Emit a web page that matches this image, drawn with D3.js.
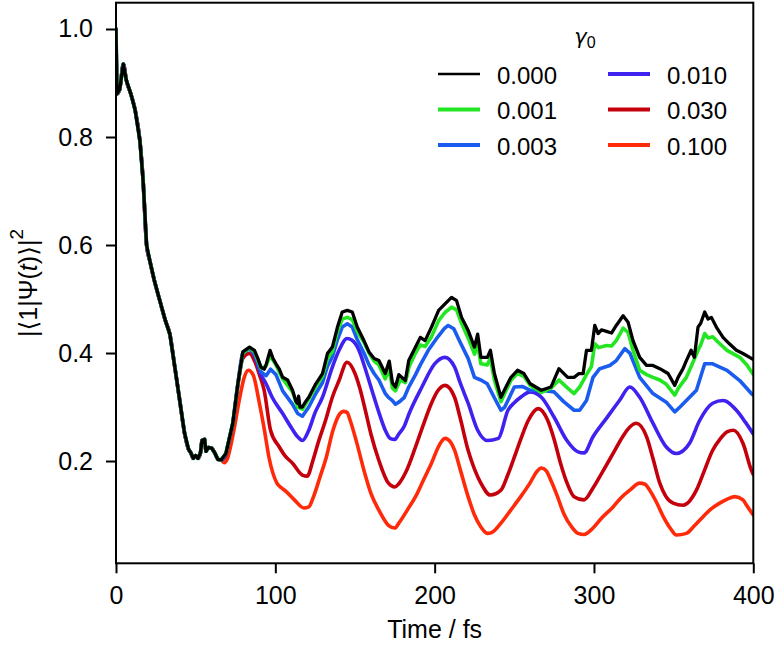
<!DOCTYPE html>
<html><head><meta charset="utf-8">
<script src="https://cdn.jsdelivr.net/npm/d3@7"></script>
<style>
html,body{margin:0;padding:0;background:#fff;}
svg{display:block;font-family:"Liberation Sans",Arial,sans-serif;}
</style></head>
<body><svg id="chart" width="778" height="646"></svg>
<script>
// ---- data ----
const gammaLabels = ["0.000","0.001","0.003","0.010","0.030","0.100"];
const seriesColors = ["#000000","#22e622","#1a5cf0","#3f22f0","#c4000c","#ff2a0a"];
const xTicks = [0,100,200,300,400];
const yTicks = [0.2,0.4,0.6,0.8,1.0];

// shared initial decay (all damping values coincide here)
const early = [[0,1.0],[0.6,0.88],[2.3,0.888],[4.6,0.935],[6.5,0.905],[9.5,0.878],[12,0.85],[15,0.793],[17,0.72],[19.2,0.6],[21.2,0.571],[24,0.535],[27.5,0.497],[31,0.46],[33.8,0.435],[36.9,0.374],[40,0.312],[43,0.252],[45.5,0.222],[47,0.215],[48.5,0.205],[50,0.21],[51.5,0.205],[53,0.215],[54,0.238],[55.6,0.24],[56.5,0.218],[58,0.225],[60,0.224],[62,0.215],[64,0.203],[66,0.202]];

const g000 = [[69,0.214],[71,0.24],[73.3,0.27],[76.5,0.343],[79.6,0.402],[83.8,0.411],[86.9,0.405],[89,0.39],[91,0.374],[93,0.37],[94.2,0.378],[96.7,0.405],[98.5,0.39],[100.4,0.38],[102.5,0.37],[104.6,0.355],[107.7,0.35],[110.8,0.331],[113,0.31],[114,0.307],[114.6,0.32],[115.5,0.3],[117,0.3],[119,0.31],[121,0.318],[125.4,0.343],[129.6,0.362],[132.7,0.399],[135.8,0.411],[139,0.448],[142,0.476],[145.2,0.479],[148.3,0.476],[151.4,0.448],[155.6,0.423],[158.8,0.402],[162,0.39],[165,0.386],[169,0.362],[171.5,0.385],[173.5,0.345],[175.4,0.337],[177.5,0.36],[181.6,0.349],[183.75,0.386],[188,0.411],[191,0.429],[194,0.423],[198,0.448],[202.5,0.479],[206.5,0.491],[210.6,0.503],[213.75,0.497],[216.9,0.466],[221,0.442],[225,0.411],[227,0.435],[229,0.392],[233.1,0.392],[235,0.405],[237.5,0.362],[241.6,0.318],[244.75,0.337],[247.9,0.355],[252,0.368],[256,0.362],[260,0.343],[266.9,0.331],[273,0.337],[278,0.371],[283.5,0.355],[287.5,0.355],[290.6,0.362],[293.2,0.362],[295.3,0.405],[298.4,0.405],[300.5,0.451],[302.6,0.436],[304.7,0.443],[307.8,0.44],[311,0.437],[314,0.451],[318.3,0.469],[321.4,0.457],[324.5,0.423],[328.7,0.392],[333,0.377],[337,0.377],[341.3,0.371],[346.5,0.362],[350.7,0.34],[352.8,0.355],[355.9,0.371],[358,0.386],[361,0.405],[363,0.392],[365.3,0.448],[367,0.455],[369.5,0.476],[371.6,0.463],[373.7,0.466],[376.8,0.448],[381,0.429],[385,0.417],[389.4,0.405],[393.5,0.399],[398.8,0.39],[400,0.388]];

const g001 = [[69,0.214],[71,0.24],[73.3,0.27],[76.5,0.343],[79.6,0.4],[83.8,0.41],[87,0.402],[91,0.372],[94,0.375],[96.7,0.395],[100.4,0.378],[104.6,0.352],[110.8,0.328],[114,0.3],[117,0.296],[121,0.315],[125.4,0.338],[129.6,0.357],[132.7,0.39],[135.8,0.403],[139,0.44],[142,0.463],[145.2,0.466],[148.3,0.462],[151.4,0.44],[155.6,0.42],[158.8,0.4],[162,0.385],[165,0.378],[169,0.352],[171.5,0.37],[173.5,0.335],[175.4,0.33],[178.5,0.35],[181.6,0.345],[184,0.375],[188,0.4],[191,0.415],[194,0.412],[198,0.43],[202.5,0.46],[206.5,0.475],[210.6,0.485],[213.75,0.48],[216.9,0.455],[221,0.428],[225,0.398],[227,0.415],[229,0.38],[233,0.378],[235,0.39],[237.5,0.35],[241.6,0.31],[244.75,0.33],[248,0.35],[252,0.362],[256,0.357],[260,0.34],[267,0.327],[273,0.335],[278,0.35],[283.5,0.335],[287.5,0.325],[291,0.337],[295.3,0.36],[298.4,0.375],[300.5,0.417],[303,0.41],[307.8,0.414],[311,0.413],[314,0.423],[318.3,0.446],[321.4,0.438],[324.5,0.405],[328.7,0.368],[333,0.36],[337,0.355],[341.3,0.35],[345.4,0.342],[350.7,0.322],[353,0.335],[358,0.355],[361,0.375],[365.3,0.405],[367,0.415],[369.5,0.436],[371.6,0.428],[374.5,0.43],[378,0.42],[383.5,0.405],[391.5,0.392],[396,0.378],[400,0.36]];

const g003 = [[69,0.214],[71,0.24],[73.3,0.27],[76.5,0.343],[79.6,0.4],[83.8,0.408],[87,0.398],[91,0.365],[94.2,0.358],[97,0.37],[100.4,0.36],[104.6,0.33],[110.8,0.305],[114,0.288],[117,0.283],[121,0.3],[125.4,0.325],[129.6,0.345],[132.7,0.375],[135.8,0.393],[139,0.425],[142,0.448],[145.2,0.454],[148.3,0.448],[151.4,0.425],[155.6,0.4],[158.8,0.378],[162,0.362],[165,0.35],[169,0.325],[171,0.318],[173.5,0.312],[175.4,0.305],[178,0.31],[181,0.318],[183.75,0.337],[188,0.36],[191,0.378],[196,0.405],[202,0.43],[206,0.445],[208.5,0.451],[212,0.445],[216,0.42],[221,0.39],[225,0.355],[229,0.35],[233,0.343],[237,0.32],[241.6,0.294],[244,0.3],[250,0.337],[255,0.338],[260,0.331],[267,0.331],[275,0.328],[281,0.31],[287.5,0.294],[291,0.294],[295.3,0.312],[299.4,0.355],[303.6,0.371],[309.9,0.377],[314,0.386],[319.3,0.408],[322.5,0.4],[328.7,0.355],[337,0.325],[345.4,0.309],[350.7,0.291],[354,0.3],[358,0.312],[364.3,0.331],[369.5,0.38],[374.5,0.38],[383.5,0.368],[391.5,0.349],[398.8,0.325],[400,0.322]];

const g010 = [[69,0.214],[71,0.24],[73.3,0.27],[76.5,0.343],[79.6,0.4],[83.8,0.408],[87,0.395],[91,0.36],[94.2,0.343],[98,0.318],[104.6,0.288],[110,0.262],[114,0.245],[117,0.238],[121,0.257],[125,0.29],[129.6,0.318],[135.8,0.374],[140,0.405],[145,0.427],[148,0.424],[152.5,0.405],[156,0.375],[160,0.337],[165,0.29],[169,0.257],[172,0.242],[175,0.24],[177.5,0.25],[181,0.265],[184,0.288],[192,0.337],[200,0.38],[206.5,0.392],[212.5,0.374],[216,0.345],[221,0.307],[227,0.257],[233,0.238],[240,0.242],[246,0.294],[250,0.308],[254,0.318],[260,0.328],[267,0.318],[275,0.281],[283,0.238],[290,0.217],[293.75,0.215],[299.4,0.245],[307.8,0.279],[316,0.312],[322.5,0.337],[328.7,0.318],[337,0.27],[345.4,0.226],[351.7,0.214],[360,0.233],[366.3,0.275],[374.5,0.307],[381,0.312],[389.4,0.294],[395,0.272],[400,0.25]];

const g030 = [[69,0.212],[71,0.238],[73.3,0.268],[76.5,0.34],[79.6,0.39],[83.8,0.399],[87,0.385],[90,0.36],[93,0.331],[97,0.257],[102.5,0.226],[106,0.21],[110.8,0.196],[117,0.174],[120,0.172],[123.5,0.2],[127,0.235],[131.5,0.275],[136,0.32],[140,0.349],[145,0.383],[150,0.362],[153,0.335],[156,0.3],[160,0.25],[165,0.201],[171,0.159],[175,0.152],[177.5,0.158],[182,0.18],[188,0.226],[193,0.268],[198,0.307],[202,0.33],[206.5,0.34],[212.5,0.318],[216,0.28],[221,0.22],[225,0.185],[229,0.159],[235,0.137],[241.6,0.146],[246,0.175],[250,0.207],[254,0.24],[258.75,0.275],[265,0.297],[271,0.275],[275,0.24],[279,0.196],[283,0.16],[287.5,0.134],[293.75,0.128],[299.4,0.15],[305,0.178],[312,0.214],[318,0.245],[322.5,0.263],[326.6,0.27],[333,0.245],[337,0.205],[341.3,0.159],[345,0.135],[349.7,0.122],[355.9,0.118],[364.3,0.146],[369,0.18],[374.5,0.22],[379,0.24],[383.5,0.254],[387.6,0.257],[393.5,0.233],[398.8,0.183],[400,0.175]];

const g100 = [[68,0.197],[70,0.205],[72,0.228],[74.5,0.265],[77.5,0.315],[80.5,0.355],[83,0.368],[86,0.36],[90,0.307],[93,0.26],[96,0.207],[101,0.159],[104,0.15],[107,0.143],[112,0.128],[118,0.113],[121,0.115],[124,0.134],[128,0.17],[132,0.207],[136,0.255],[140.6,0.288],[142.7,0.292],[145,0.29],[147,0.275],[151,0.235],[155.6,0.183],[160,0.14],[165,0.109],[171,0.081],[175,0.076],[177.5,0.085],[183,0.11],[188,0.134],[193,0.165],[198,0.196],[203,0.23],[206.5,0.242],[210,0.235],[212.5,0.22],[216,0.185],[221,0.134],[225,0.1],[229,0.078],[233,0.066],[236,0.068],[241.6,0.085],[248,0.11],[254,0.134],[260,0.16],[264,0.18],[267,0.187],[270,0.182],[273,0.164],[277,0.135],[281,0.103],[286,0.078],[290,0.066],[293.75,0.064],[299.4,0.076],[305,0.095],[312,0.115],[317,0.132],[322.5,0.146],[328.7,0.159],[332,0.157],[335,0.146],[339,0.125],[343.5,0.097],[348,0.075],[351.7,0.063],[358,0.066],[363,0.08],[368.5,0.097],[373,0.11],[378.9,0.122],[384,0.13],[388.4,0.134],[393.5,0.128],[396,0.117],[400,0.1]];

const seriesTails = [g000,g001,g003,g010,g030,g100];

// ---- layout ----
const M = {left:116, right:753.3, top:2.7, bottom:563.3};
const svg = d3.select("#chart");
const x = d3.scaleLinear().domain([0,400]).range([M.left,M.right]);
const y = d3.scaleLinear().domain([0.0106,1.0487]).range([M.bottom,M.top]);

svg.append("defs").append("clipPath").attr("id","clip")
  .append("rect").attr("x",M.left).attr("y",M.top)
  .attr("width",M.right-M.left).attr("height",M.bottom-M.top);

const buildSeries = tail => early.filter(p => p[0] < tail[0][0]).concat(tail);
const smooth = [false,false,false,true,true,true];
const widths = [3.3,3.6,3.6,3.6,3.6,3.6];
const legendWidths = [2.7,4,4,4,4,4];

const gLines = svg.append("g").attr("clip-path","url(#clip)");
for (let i = seriesTails.length-1; i >= 0; i--) {
  const line = d3.line().x(d=>x(d[0])).y(d=>y(d[1]))
    .curve(smooth[i] ? d3.curveMonotoneX : d3.curveLinear);
  gLines.append("path").datum(buildSeries(seriesTails[i]))
    .attr("fill","none").attr("stroke",seriesColors[i])
    .attr("stroke-width",widths[i]).attr("stroke-linejoin","round")
    .attr("stroke-linecap","round").attr("d",line);
}

// axes
const xAxis = d3.axisBottom(x).tickValues(xTicks).tickSize(10).tickPadding(13).tickFormat(d3.format("d"));
const yAxis = d3.axisLeft(y).tickValues(yTicks).tickSize(10).tickPadding(13).tickFormat(d3.format(".1f"));
const gx = svg.append("g").attr("transform",`translate(0,${M.bottom})`).call(xAxis);
const gy = svg.append("g").attr("transform",`translate(${M.left},0)`).call(yAxis);
[gx,gy].forEach(g=>{
  g.select(".domain").remove();
  g.selectAll(".tick line").attr("stroke","#000").attr("stroke-width",2);
  g.selectAll(".tick text").attr("fill","#000").style("font-size","25px")
    .style("font-family","'Liberation Sans',Arial,sans-serif");
});
gx.selectAll(".tick text").attr("dy","0.71em");
svg.append("rect").attr("x",M.left).attr("y",M.top)
  .attr("width",M.right-M.left).attr("height",M.bottom-M.top)
  .attr("fill","none").attr("stroke","#000").attr("stroke-width",2);

// axis labels
svg.append("text").attr("x",(M.left+M.right)/2).attr("y",638)
  .attr("text-anchor","middle").style("font-size","25px").text("Time / fs");

const yl = svg.append("text").attr("transform",`translate(37,${(M.top+M.bottom)/2}) rotate(-90)`)
  .attr("text-anchor","middle").style("font-size","25px");
const bracketFont = "'DejaVu Sans',sans-serif";
yl.append("tspan").text("|");
yl.append("tspan").style("font-family",bracketFont).text("\u27E8");
yl.append("tspan").text("1|\u03A8(");
yl.append("tspan").style("font-style","italic").text("t");
yl.append("tspan").text(")");
yl.append("tspan").style("font-family",bracketFont).text("\u27E9");
yl.append("tspan").text("|");
yl.append("tspan").attr("dy","-14").style("font-size","19px").text("2");

// legend
const lg = svg.append("g");
const lt = lg.append("text").attr("x",585).attr("y",44).attr("text-anchor","middle");
lt.append("tspan").style("font-family","'DejaVu Sans',sans-serif").style("font-style","italic").style("font-size","21px").text("\u03B3");
lt.append("tspan").attr("dy","4").style("font-size","16px").text("0");

const colX = [438,608];
const rowY = [74,109.5,145];
gammaLabels.forEach((lab,i)=>{
  const c = Math.floor(i/3), r = i%3;
  lg.append("line").attr("x1",colX[c]).attr("x2",colX[c]+42)
    .attr("y1",rowY[r]).attr("y2",rowY[r])
    .attr("stroke",seriesColors[i]).attr("stroke-width",legendWidths[i]);
  lg.append("text").attr("x",colX[c]+59).attr("y",rowY[r]+9.5)
    .style("font-size","24px").text(lab);
});
</script></body></html>
